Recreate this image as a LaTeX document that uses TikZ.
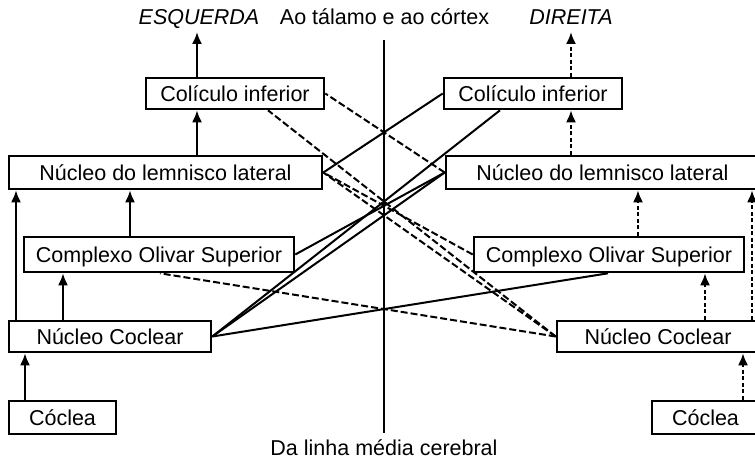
\documentclass[tikz,border=0pt]{standalone}
\usepackage{fontspec}
\setmainfont{Liberation Sans}
\usetikzlibrary{arrows.meta,calc}
\begin{document}
\begin{tikzpicture}[x=1pt,y=-1pt,
  box/.style={draw,line width=2.6pt,inner sep=0pt,text height=15.5pt,text depth=0pt,font=\fontsize{21.5}{26}\selectfont},
  lbl/.style={inner sep=0pt,anchor=base,font=\fontsize{21.5}{26}\selectfont},
  itlbl/.style={lbl,font=\fontsize{21.5}{26}\selectfont\itshape},
  con/.style={line width=2pt},
  arr/.style={con,-{Latex[length=12pt,width=10pt]}},
  dsh/.style={con,dash pattern=on 7pt off 3pt},
  darr/.style={arr,dash pattern=on 4pt off 2.5pt},
]
\useasboundingbox (0,0) rectangle (755,460);
\clip (0,0) rectangle (755,460);

% labels
\node[itlbl] (ESQ) at (199,25) {ESQUERDA};
\node[lbl] (TOP) at (384.5,25) {Ao tálamo e ao córtex};
\node[itlbl] (DIR) at (571,25) {DIREITA};
\node[lbl] (BOT) at (384,455) {Da linha média cerebral};
\coordinate (esqtip) at (197,32);
\coordinate (dirtip) at (571,32);
\coordinate (mtop) at (384,40);
\coordinate (mbot) at (384,433);
\draw[con] (mtop) -- (mbot);

% boxes
\node[box,minimum width=178pt,minimum height=31pt] (ColL) at (235,93.5) {Colículo inferior};
\node[box,minimum width=178pt,minimum height=31pt] (ColR) at (533,93.5) {Colículo inferior};
\node[box,minimum width=313pt,minimum height=33pt] (NLLL) at (165.5,172.5) {Núcleo do lemnisco lateral};
\node[box,minimum width=313pt,minimum height=33pt] (NLLR) at (602.5,172.5) {Núcleo do lemnisco lateral};
\node[box,minimum width=270pt,minimum height=35pt] (COSL) at (159,254.5) {Complexo Olivar Superior};
\node[box,minimum width=270pt,minimum height=35pt] (COSR) at (609,254.5) {Complexo Olivar Superior};
\node[box,minimum width=202pt,minimum height=31pt] (NCL) at (110,336.5) {Núcleo Coclear};
\node[box,minimum width=202pt,minimum height=31pt] (NCR) at (658,336.5) {Núcleo Coclear};
\node[box,minimum width=107pt,minimum height=33pt] (CocL) at (62.5,417.5) {Cóclea};
\node[box,minimum width=107pt,minimum height=33pt] (CocR) at (705.5,417.5) {Cóclea};

% left ipsilateral (solid)
\draw[arr] ([xshift=-38pt]ColL.north) -- (esqtip);
\draw[arr] ([xshift=31.5pt]NLLL.north) -- ([xshift=31.5pt]NLLL.north |- ColL.south);
\draw[arr] ([xshift=-29pt]COSL.north) -- ([xshift=-29pt]COSL.north |- NLLL.south);
\draw[arr] ([xshift=-47pt]NCL.north) -- ([xshift=-47pt]NCL.north |- COSL.south);
\draw[arr] ([xshift=-94pt]NCL.north) -- ([xshift=-94pt]NCL.north |- NLLL.south);
\draw[arr] ([xshift=-37.5pt]CocL.north) -- ([xshift=-37.5pt]CocL.north |- NCL.south);

% right ipsilateral (dashed)
\draw[darr] ([xshift=38pt]ColR.north) -- (dirtip);
\draw[darr] ([xshift=-31.5pt]NLLR.north) -- ([xshift=-31.5pt]NLLR.north |- ColR.south);
\draw[darr] ([xshift=29pt]COSR.north) -- ([xshift=29pt]COSR.north |- NLLR.south);
\draw[darr] ([xshift=47pt]NCR.north) -- ([xshift=47pt]NCR.north |- COSR.south);
\draw[darr] ([xshift=94pt]NCR.north) -- ([xshift=94pt]NCR.north |- NLLR.south);
\draw[darr] ([xshift=37.5pt]CocR.north) -- ([xshift=37.5pt]CocR.north |- NCR.south);

% crossing, from left (solid)
\draw[con] (NCL.east) -- ([xshift=-1pt]COSR.south);
\draw[con] (NCL.east) -- (NLLR.west);
\draw[con] (NCL.east) -- ([xshift=-33pt]ColR.south);
\draw[con] (COSL.east) -- (NLLR.west);
\draw[con] (NLLL.east) -- (ColR.west);

% crossing, from right (dashed)
\draw[dsh] (NCR.west) -- ([xshift=1pt]COSL.south);
\draw[dsh] (NCR.west) -- (NLLL.east);
\draw[dsh] (NCR.west) -- ([xshift=33pt]ColL.south);
\draw[dsh] (COSR.west) -- (NLLL.east);
\draw[dsh] (NLLR.west) -- (ColL.east);
\end{tikzpicture}
\end{document}
